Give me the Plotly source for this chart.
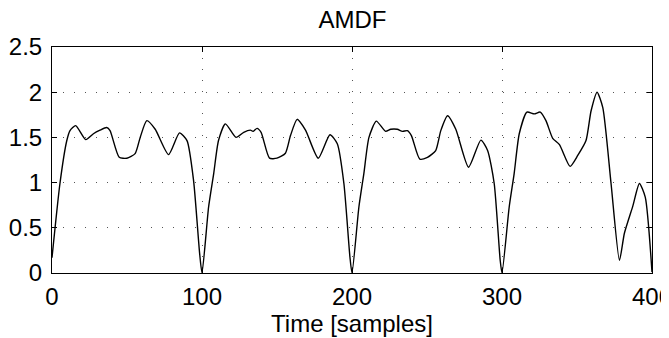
import plotly.graph_objects as go

sample = [0, 5.3, 9.8, 12, 15.8, 22.5, 27.6, 32, 36.5, 38.7, 44.8, 49.9, 55.4, 58.8, 63.2, 68.8, 77.7, 85, 90, 94.4, 98.4,
          100, 104.4, 107.8, 111, 115.6, 122.7, 127.8, 132.3, 134, 136.7, 139.4, 145, 150, 155.6, 159, 163.4, 169, 177.5, 185.3, 190.2, 194.6, 198.6,
          200, 204.6, 207.9, 211.3, 216.2, 222.4, 225.8, 230.2, 233.6, 236.9, 239.6, 245.2, 250.3, 255.8, 259.2, 263.7, 269.2, 277.7, 285.9, 290.4, 294.8, 298.8,
          300, 304.8, 308.1, 311.5, 316.6, 321.5, 325.5, 329.3, 333.8, 338.3, 345.4, 350.5, 356, 359.4, 363.4, 367.2, 372.7, 378.3, 381.6, 387.2, 391.6, 395.5, 400]
amdf = [0.17, 0.99, 1.46, 1.575, 1.63, 1.475, 1.54, 1.58, 1.61, 1.575, 1.28, 1.27, 1.32, 1.50, 1.685, 1.59, 1.31, 1.55, 1.465, 1.02, 0.22,
        0.0, 0.73, 1.10, 1.465, 1.65, 1.50, 1.556, 1.58, 1.567, 1.60, 1.556, 1.27, 1.27, 1.325, 1.52, 1.70, 1.58, 1.27, 1.53, 1.43, 0.99, 0.18,
        0.0, 0.73, 1.10, 1.50, 1.68, 1.567, 1.59, 1.59, 1.567, 1.575, 1.52, 1.26, 1.28, 1.355, 1.575, 1.74, 1.59, 1.17, 1.47, 1.355, 0.99, 0.14,
        0.0, 0.73, 1.10, 1.54, 1.78, 1.76, 1.78, 1.685, 1.49, 1.42, 1.18, 1.30, 1.465, 1.795, 2.0, 1.83, 0.99, 0.14, 0.44, 0.74, 0.99, 0.84, 0.01]

x_ticks = [0, 100, 200, 300, 400]
y_ticks = [0, 0.5, 1, 1.5, 2, 2.5]
y_tick_labels = ["0", "0.5", "1", "1.5", "2", "2.5"]

fig = go.Figure()
fig.add_trace(go.Scatter(x=sample, y=amdf, mode="lines",
                         line=dict(color="black", width=1.4, shape="spline", smoothing=0.6),
                         showlegend=False, cliponaxis=False))

font = "Liberation Sans, Arial, Helvetica, sans-serif"
axis_common = dict(showline=True, linecolor="black", linewidth=1, mirror="ticks",
                   ticks="inside", ticklen=5, tickcolor="black", automargin=False,
                   ticklabeloverflow="allow",
                   showgrid=True, gridcolor="#555555", gridwidth=1, griddash="1px,10px",
                   zeroline=False, tickfont=dict(family=font, size=24, color="black"))

fig.update_layout(
    width=661, height=330,
    margin=dict(l=44, r=17, t=39, b=65),
    paper_bgcolor="white", plot_bgcolor="white",
    title=dict(text="AMDF", x=0.521, xanchor="center", y=0.966, yanchor="middle", automargin=False,
               font=dict(family=font, size=24, color="black")),
    xaxis=dict(range=[0, 400], tickvals=x_ticks, ticktext=[str(v) for v in x_ticks],
               ticklabelstandoff=2,
               title=dict(text="Time [samples]", font=dict(family=font, size=24, color="black"), standoff=2),
               **axis_common),
    yaxis=dict(range=[0, 2.5], tickvals=y_ticks, ticktext=y_tick_labels, ticklabelstandoff=4,
               **axis_common),
)

fig.write_html("out.html")
